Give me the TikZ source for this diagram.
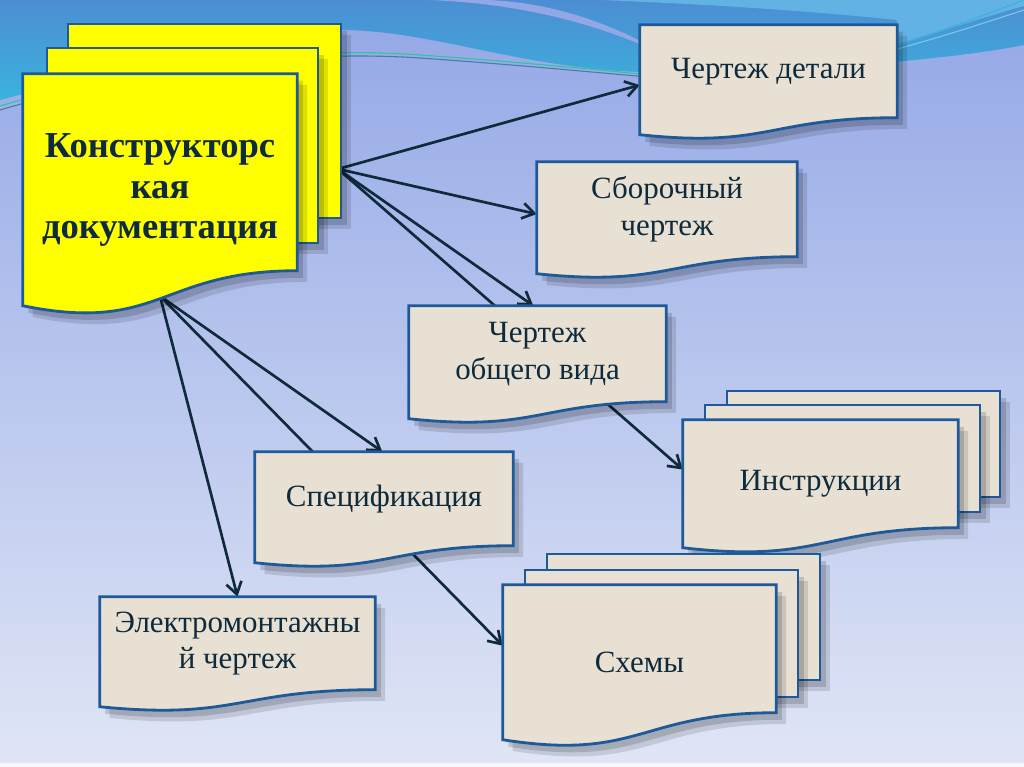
\documentclass[tikz,border=0pt]{standalone}
\usepackage{fontspec}
\setmainfont{Liberation Serif}
\usetikzlibrary{positioning,arrows.meta,calc}
\definecolor{docBlue}{HTML}{1E5A9A}
\definecolor{paperBeige}{HTML}{E7E0D3}
\definecolor{inkNavy}{HTML}{0E2A3B}
\definecolor{kdYellow}{HTML}{FFFF00}
\definecolor{skyTop}{HTML}{4C8ED2}
\definecolor{skyCyan}{HTML}{3BB2DE}
\definecolor{skyLight}{HTML}{62B2E4}
\definecolor{lavTop}{HTML}{93A7E6}
\definecolor{lavMid}{HTML}{B1C0F0}
\definecolor{lavBot}{HTML}{E0E6F6}
\newcommand{\px}{0.025cm}
% sheet with a wavy lower edge: node, drop to the right end, wave depth
\newcommand{\docshape}[4][]{%
  \path[#1] (#2.north west) -- (#2.north east) -- ($(#2.north east)+(0,#3)$)
    .. controls ($(#2.north)+(0,#3)$) and ($(#2.north)+(0,{#3+1.8*#4})$)
    .. ($(#2.north west)+(0,{#3+#4})$) -- cycle;}
\newcommand{\shadowdoc}[4][]{%
  \docshape[softshadow]{#2}{#3}{#4}%
  \docshape[hardshadow]{#2}{#3}{#4}%
  \docshape[#1]{#2}{#3}{#4}}
\newcommand{\sheet}[3][]{%
  \path[softshadow] #2 rectangle #3;
  \path[hardshadow] #2 rectangle #3;
  \path[#1] #2 rectangle #3;}
\pgfdeclarelayer{bg}
\pgfdeclarelayer{links}
\pgfdeclarelayer{docs}
\pgfsetlayers{bg,links,docs,main}

\begin{document}
\begin{tikzpicture}[x=\px, y=-\px,
    every node/.style={font=\fontsize{22}{26}\selectfont, text=inkNavy,
                       align=center, inner sep=0pt},
    docbox/.style 2 args={minimum width=#1*\px, minimum height=#2*\px},
    paperfill/.style={fill=paperBeige, draw=docBlue, line width=2pt},
    yellowfill/.style={fill=kdYellow, draw=docBlue, line width=2pt},
    softshadow/.style={fill=black, fill opacity=0.12,
                       transform canvas={xshift=7pt, yshift=-8pt}},
    hardshadow/.style={fill=black, fill opacity=0.15,
                       transform canvas={xshift=4pt, yshift=-5pt}},
    skyline/.style={line width=0.8pt},
    arr/.style={draw=inkNavy, line width=1.9pt,
                -{Straight Barb[length=8.5pt, width=11pt]}}]
  \useasboundingbox (0,0) rectangle (1024,767);

  % background
  \begin{pgfonlayer}{bg}
    \shade[top color=lavTop, middle color=lavMid, bottom color=lavBot]
      (0,0) rectangle (1024,767);
    \shade[top color=skyTop, bottom color=skyCyan] (0,0) -- (1024,0) -- (1024,45)
      .. controls (940,62) and (760,74) .. (640,72)
      .. controls (520,68) and (430,30) .. (340,30)
      .. controls (220,30) and (80,80) .. (0,100) -- cycle;
    \fill[skyLight] (600,0) -- (1024,0) -- (1024,6)
      .. controls (960,24) and (930,36) .. (897,44) -- (897,20)
      .. controls (800,10) and (700,4) .. (600,0) -- cycle;
    \fill[lavTop] (430,0) .. controls (530,4) and (610,28) .. (670,58)
      .. controls (610,20) and (540,0) .. (480,0) -- cycle;
    \draw[skyline, draw=skyCyan!70!green] (0,106) .. controls (150,62) and (300,46) .. (420,55)
      .. controls (520,62) and (600,70) .. (660,76);
    \draw[skyline, draw=docBlue!80] (0,110) .. controls (150,66) and (300,50) .. (420,58)
      .. controls (520,65) and (600,73) .. (660,78);
    \draw[skyline, draw=skyCyan] (880,50) .. controls (950,28) .. (1024,0);
    \draw[skyline, draw=skyCyan!70!white] (880,54) .. controls (950,34) .. (1024,10);
    \fill[white!70!lavBot] (0,763) rectangle (1024,767);
  \end{pgfonlayer}

  % documents
  \node[docbox={274}{232}, font=\bfseries\fontsize{26}{28.5}\selectfont] (kd) at (160,190)
    {Конструкторс\\кая\\документация};
  \node[docbox={257}{93}] (cd) at (768.5,71.5) {Чертеж детали};
  \node[docbox={260}{95}] (sb) at (667,209.5) {Сборочный\\чертеж};
  \node[docbox={257}{96}] (ov) at (537.5,354) {Чертеж\\общего вида};
  \node[docbox={275}{128}] (ins) at (820.5,484) {Инструкции};
  \node[docbox={258}{94}] (sp) at (384,499) {Спецификация};
  \node[docbox={273}{155}] (sh) at (639.5,662.5) {Схемы};
  \node[docbox={275}{93}] (em) at (237.5,643.5) {Электромонтажны\\й чертеж};

  \coordinate (kdR) at (338,169);
  \coordinate (kdB) at (160,296);

  \begin{pgfonlayer}{docs}
    \sheet[yellowfill]{(68,24)}{(341,218)}
    \sheet[yellowfill]{(47,48)}{(318,243)}
    \shadowdoc[yellowfill]{kd}{197}{35}
    \shadowdoc[paperfill]{cd}{93}{17}
    \shadowdoc[paperfill]{sb}{95}{17}
    \shadowdoc[paperfill]{ov}{96}{17}
    \sheet[paperfill]{(727,391)}{(1000,497)}
    \sheet[paperfill]{(705,405)}{(980,512)}
    \shadowdoc[paperfill]{ins}{108}{20}
    \shadowdoc[paperfill]{sp}{94}{17}
    \sheet[paperfill]{(547,554)}{(820,680)}
    \sheet[paperfill]{(525,570)}{(798,697)}
    \shadowdoc[paperfill]{sh}{128}{27}
    \shadowdoc[paperfill]{em}{93}{17}
  \end{pgfonlayer}

  % links
  \begin{pgfonlayer}{links}
    \draw[arr] (kdR) -- (cd.186);
    \draw[arr] (kdR) -- (sb.182);
    \draw[arr] (kdR) -- (ov.95);
    \draw[arr] (kdR) -- (ins.174);
    \draw[arr] (kdB) -- (sp.92);
    \draw[arr] (kdB) -- (sh.173);
    \draw[arr] (kdB) -- (em.north);
  \end{pgfonlayer}
\end{tikzpicture}
\end{document}
